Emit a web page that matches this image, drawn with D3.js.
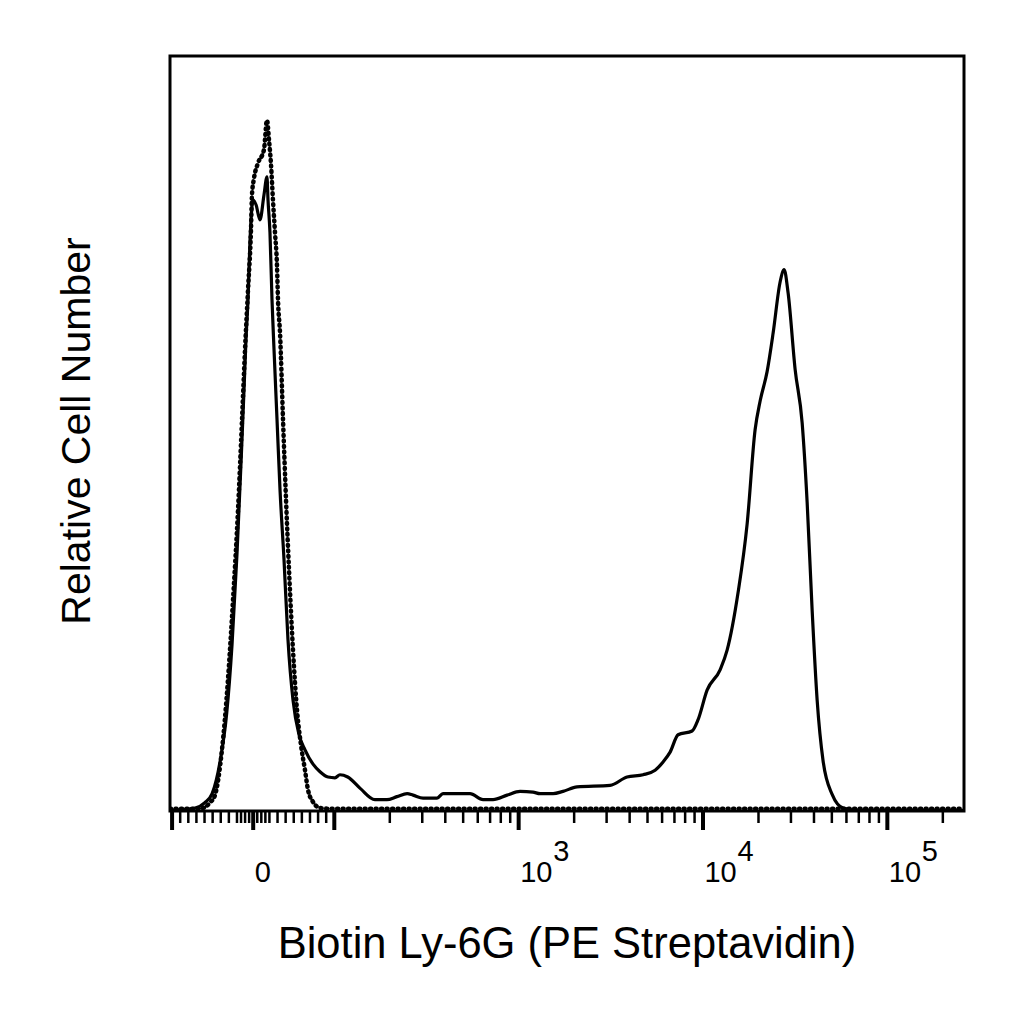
<!DOCTYPE html>
<html>
<head>
<meta charset="utf-8">
<script src="https://cdn.jsdelivr.net/npm/d3@7"></script>
<style>
  body { margin: 0; background: #fff; }
  text { font-family: "Liberation Sans", Arial, sans-serif; fill: #000; }
</style>
</head>
<body>
<svg id="chart"></svg>
<script>
// Ly-6G stained sample (solid) - [fluorescence, relative count]
const stainedX = [-102, -71, -59, -50, -40, -32, -25.5, -19.4, -14.4, -10.7, -8.3, -5.8, -3.3, 0.4, 4.1, 9.0, 13.9, 17.6, 18.9, 21.3, 23.8, 26.3, 30.0, 33.7, 38.6, 43.5, 49.7, 57.1, 64.5, 74.4, 83, 92.9, 101.5, 108, 119, 139, 167, 194, 220, 250, 269, 305, 363, 391, 548, 645, 731, 871, 1024, 1204, 1315, 1547, 1752, 2087, 3153, 3898, 4762, 5532, 6113, 6673, 7373, 8781, 9465, 10590, 12460, 13600, 15610, 17460, 19290, 20540, 22410, 24160, 26380, 27730, 29140, 31800, 34720, 36950, 39330, 41870, 45120, 50500, 57940, 71640, 262144];
const stainedY = [0.1, 0.4, 1.1, 2.3, 6.7, 13.0, 22.0, 34.0, 46.1, 55.8, 62.4, 67.7, 75.6, 80.9, 80.3, 78.3, 81.6, 84.0, 80.9, 76.6, 67.7, 61.1, 51.8, 42.5, 33.3, 22.7, 14.7, 10.1, 8.1, 6.2, 5.2, 4.5, 4.4, 4.8, 4.5, 3.0, 1.5, 1.5, 1.9, 2.3, 2.1, 1.7, 1.7, 2.3, 2.3, 1.5, 1.5, 2.1, 2.6, 2.5, 2.3, 2.3, 2.6, 3.2, 3.4, 4.5, 4.8, 5.4, 6.5, 7.8, 10.1, 10.6, 12.1, 16.0, 18.7, 21.3, 29.0, 38.0, 50.5, 54.3, 58.2, 63.3, 70.1, 71.7, 68.6, 58.5, 51.4, 40.9, 26.6, 14.7, 6.6, 2.2, 0.4, 0.1, 0.1];

// streptavidin-only control (dotted)
const controlX = [-102, -65, -52.7, -46.5, -37.9, -30.5, -24.3, -18.1, -13.2, -9.5, -5.8, -2.1, -0.9, 1.6, 6.5, 13.9, 17.6, 20.1, 22.6, 25.0, 27.5, 30.0, 31.2, 33.7, 37.4, 41.1, 44.8, 49.7, 54.6, 59.6, 64.5, 68.2, 74.4, 83.0, 95.3, 262144];
const controlY = [0.3, 0.3, 1.1, 2.1, 8.1, 17.4, 27.9, 39.9, 51.8, 61.1, 69.0, 77.0, 81.6, 83.8, 85.8, 87.6, 91.5, 88.9, 85.6, 80.9, 76.6, 72.1, 67.7, 63.3, 51.8, 41.2, 31.9, 21.3, 13.4, 8.7, 5.4, 2.8, 1.2, 0.4, 0.3, 0.3];

const majorTicks = [-100, 0, 100, 1e3, 1e4, 1e5];
const minorTicks = [-90, -80, -70, -60, -50, -40, -30, -20, -15, -10, -5, 5, 10, 15, 20, 30, 40, 50, 60, 70, 80, 90,
  200, 300, 400, 500, 600, 700, 800, 900,
  2000, 3000, 4000, 5000, 6000, 7000, 8000, 9000,
  20000, 30000, 40000, 50000, 60000, 70000, 80000, 90000, 200000];
const labelTicks = [0, 1e3, 1e4, 1e5];
const labelBase = ['0', '10', '10', '10'];
const labelExp = ['', '3', '4', '5'];

const xDomain = [-102, 262144];
const yDomain = [0, 100];

// biexponential-like display transform: linear within +-100, log above
const LIN = 0.44;
function biex(v) {
  const a = Math.abs(v);
  return a <= 100 ? LIN * v / 100 : Math.sign(v) * (LIN + Math.log10(a / 100));
}

const width = 1024;
const height = 1024;
const margin = { top: 56, left: 170, right: 60, bottom: 213 };
const innerWidth = width - margin.left - margin.right;
const innerHeight = height - margin.top - margin.bottom;

const svg = d3.select('#chart')
  .attr('width', width)
  .attr('height', height);

const g = svg.append('g')
  .attr('transform', `translate(${margin.left}, ${margin.top})`);

const xScale = d3.scaleLinear()
  .domain(xDomain.map(biex))
  .range([0, innerWidth]);

const yScale = d3.scaleLinear()
  .domain(yDomain)
  .range([innerHeight, 0]);

g.append('clipPath')
  .attr('id', 'plot-clip')
  .append('rect')
  .attr('width', innerWidth)
  .attr('height', innerHeight);

const lineGen = d3.line()
  .x(d => xScale(biex(d[0])))
  .y(d => yScale(d[1]))
  .curve(d3.curveMonotoneX);

const stained = stainedX.map((x, i) => [x, stainedY[i]]);
const control = controlX.map((x, i) => [x, controlY[i]]);

g.append('path')
  .datum(stained)
  .attr('clip-path', 'url(#plot-clip)')
  .attr('d', lineGen)
  .attr('fill', 'none')
  .attr('stroke', '#000')
  .attr('stroke-width', 3.2)
  .attr('stroke-linejoin', 'round');

g.append('path')
  .datum(control)
  .attr('clip-path', 'url(#plot-clip)')
  .attr('d', lineGen)
  .attr('fill', 'none')
  .attr('stroke', '#000')
  .attr('stroke-width', 4.5)
  .attr('stroke-linecap', 'round')
  .attr('stroke-dasharray', '1 4.5');

// minor + major ticks (no labels from the axis itself)
g.append('g')
  .attr('class', 'x-minor')
  .attr('transform', `translate(0, ${innerHeight})`)
  .call(d3.axisBottom(xScale).tickValues(minorTicks.map(biex)).tickSize(12).tickFormat(''))
  .call(a => a.select('.domain').remove())
  .call(a => a.selectAll('text').remove())
  .selectAll('line')
  .attr('stroke-width', 2.5);

g.append('g')
  .attr('class', 'x-major')
  .attr('transform', `translate(0, ${innerHeight})`)
  .call(d3.axisBottom(xScale).tickValues(majorTicks.map(biex)).tickSize(19).tickFormat(''))
  .call(a => a.select('.domain').remove())
  .call(a => a.selectAll('text').remove())
  .selectAll('line')
  .attr('stroke-width', 4);

// frame
g.append('rect')
  .attr('width', innerWidth)
  .attr('height', innerHeight)
  .attr('fill', 'none')
  .attr('stroke', '#000')
  .attr('stroke-width', 3);

// tick labels, exponents drawn as separate raised texts
const tickLabels = g.append('g').attr('class', 'tick-labels');

tickLabels.selectAll('.base')
  .data(labelTicks)
  .join('text')
  .attr('class', 'base')
  .attr('x', d => xScale(biex(d)) + 2)
  .attr('y', innerHeight + 71)
  .style('font-size', '29px')
  .text((d, i) => labelBase[i]);

tickLabels.selectAll('.exp')
  .data(labelTicks.filter((d, i) => labelExp[i] !== ''))
  .join('text')
  .attr('class', 'exp')
  .attr('x', d => xScale(biex(d)) + 35)
  .attr('y', innerHeight + 50)
  .style('font-size', '29px')
  .text(d => labelExp[labelTicks.indexOf(d)]);

g.append('text')
  .attr('x', innerWidth / 2)
  .attr('y', innerHeight + 147)
  .attr('text-anchor', 'middle')
  .style('font-size', '43.5px')
  .text('Biotin Ly-6G (PE Streptavidin)');

g.append('text')
  .attr('transform', `translate(${90 - margin.left}, ${431 - margin.top}) rotate(-90)`)
  .attr('text-anchor', 'middle')
  .style('font-size', '41px')
  .text('Relative Cell Number');
</script>
</body>
</html>
